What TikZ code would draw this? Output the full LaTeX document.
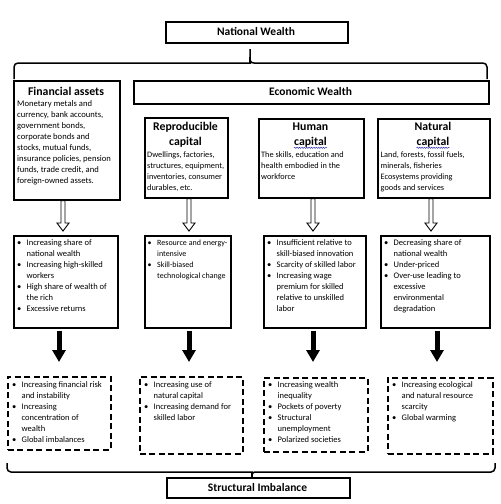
\documentclass[tikz,border=0pt]{standalone}
\usepackage{fontspec}
\setmainfont{Carlito}
\usetikzlibrary{arrows.meta,calc,decorations.pathmorphing}
\newcommand\bu{\makebox[9.5pt][l]{\textbullet}}
\newcommand\hollowarr[2]{%
  \draw[hollow] ($#1+(-2,0)$) -- ($#2+(-2,-8)$) -- ($#2+(-6,-8)$) -- #2 -- ($#2+(6,-8)$) -- ($#2+(2,-8)$) -- ($#1+(2,0)$) -- cycle;}
\begin{document}
\begin{tikzpicture}[x=1pt,y=-1pt,
  box/.style={draw, line width=1.6pt, inner sep=0, anchor=north west},
  dbox/.style={draw, line width=1.8pt, dash pattern=on 6pt off 3.5pt, inner sep=0, anchor=north west},
  head/.style={font=\fontsize{11.8}{14}\selectfont\bfseries, inner sep=0, anchor=base},
  title/.style={font=\fontsize{11.5}{14}\selectfont\bfseries, inner sep=0, anchor=base},
  body/.style={font=\fontsize{8.3}{11}\selectfont, inner sep=0, anchor=north west, align=left},
  blist/.style={font=\fontsize{8.5}{11}\selectfont, inner sep=0, anchor=north west, align=left},
  brace/.style={line width=1.5pt},
  hollow/.style={line width=0.9pt, fill=white},
  blk/.style={line width=5pt, -{Triangle[length=12pt,width=13pt]}},
  squig/.style={draw=blue!60!black!80, line width=0.5pt, decorate, decoration={snake, amplitude=0.6pt, segment length=2.4pt}}
]
\fill[white] (0,0) rectangle (501,504);
\useasboundingbox (0,0) rectangle (501,504);

% top level
\node[box, minimum width=182pt, minimum height=21pt] (nw) at (165,21) {};
\node[title] (nwt) at (256,35.5) {National Wealth};

\draw[brace] (14,79) [rounded corners=4pt] -- (14,63) -- (246,63) [sharp corners] .. controls (249.5,63) and (250,61) .. (250,57) -- (250,49)
  (250,57) .. controls (250,61) and (250.5,63) .. (254,63) [rounded corners=4pt] -- (487,63) -- (487,79);

% second level
\node[box, minimum width=106pt, minimum height=119pt] (fa) at (13,80) {};
\node[head] (fah) at (66,95) {Financial assets};
\node[body, font=\fontsize{8.6}{11}\selectfont] (fab) at (17,98.3) {\begin{tabular}{@{}l@{}}Monetary metals and\\ currency, bank accounts,\\ government bonds,\\ corporate bonds and\\ stocks, mutual funds,\\ insurance policies, pension\\ funds, trade credit, and\\ foreign-owned assets.\end{tabular}};

\node[box, minimum width=355pt, minimum height=23pt] (ew) at (133,80) {};
\node[title] (ewt) at (310.5,95.5) {Economic Wealth};

\node[box, minimum width=83pt, minimum height=80pt] (rc) at (144,117) {};
\node[head] (rch) at (185.5,130.5) {Reproducible};
\node[head] (rcc) at (185.5,145) {capital};
\node[body] (rcb) at (147,149.8) {\begin{tabular}{@{}l@{}}Dwellings, factories,\\ structures, equipment,\\ inventories, consumer\\ durables, etc.\end{tabular}};

\node[box, minimum width=105pt, minimum height=79pt] (hc) at (258,118) {};
\node[head] (hch) at (310.5,130.5) {Human};
\node[head] (hcc) at (310.5,145) {capital};
\draw[squig] ($(hcc.base west)+(0,2.8)$) -- ($(hcc.base east)+(0,2.8)$);
\node[body] (hcb) at (261,149.3) {\begin{tabular}{@{}l@{}}The skills, education and\\ health embodied in the\\ workforce\end{tabular}};

\node[box, minimum width=112pt, minimum height=79pt] (nc) at (377,118) {};
\node[head] (nch) at (433,130.5) {Natural};
\node[head] (ncc) at (433,145) {capital};
\draw[squig] ($(ncc.base west)+(0,2.8)$) -- ($(ncc.base east)+(0,2.8)$);
\node[body] (ncb) at (380.5,149.8) {\begin{tabular}{@{}l@{}}Land, forests, fossil fuels,\\ minerals, fisheries\\ Ecosystems providing\\ goods and services\end{tabular}};

% third level
\node[box, minimum width=104pt, minimum height=92pt] (ma) at (13,235) {};
\node[blist] (mat) at (17,237.3) {\begin{tabular}{@{}l@{}l@{}}\bu & Increasing share of\\ & national wealth\\ \bu & Increasing high-skilled\\ & workers\\ \bu & High share of wealth of\\ & the rich\\ \bu & Excessive returns\end{tabular}};

\node[box, minimum width=86pt, minimum height=92pt] (mb) at (144,235) {};
\node[blist, font=\fontsize{8}{11}\selectfont] (mbt) at (147.5,237.3) {\begin{tabular}{@{}l@{}l@{}}\bu & Resource and energy-\\ & intensive\\ \bu & Skill-biased\\ & technological change\end{tabular}};

\node[box, minimum width=102pt, minimum height=92pt] (mc) at (263,235) {};
\node[blist] (mct) at (267,237.3) {\begin{tabular}{@{}l@{}l@{}}\bu & Insufficient relative to\\ & skill-biased innovation\\ \bu & Scarcity of skilled labor\\ \bu & Increasing wage\\ & premium for skilled\\ & relative to unskilled\\ & labor\end{tabular}};

\node[box, minimum width=109pt, minimum height=92pt] (md) at (380,235) {};
\node[blist] (mdt) at (384,237.3) {\begin{tabular}{@{}l@{}l@{}}\bu & Decreasing share of\\ & national wealth\\ \bu & Under-priced\\ \bu & Over-use leading to\\ & excessive\\ & environmental\\ & degradation\end{tabular}};

% hollow arrows
\coordinate (h1) at (63,0);
\coordinate (h2) at (189,0);
\coordinate (h3) at (313,0);
\coordinate (h4) at (431,0);
\hollowarr{(fa.south -| h1)}{($(ma.north -| h1)+(0,-4)$)}
\hollowarr{(rc.south -| h2)}{($(mb.north -| h2)+(0,-4)$)}
\hollowarr{(hc.south -| h3)}{($(mc.north -| h3)+(0,-4)$)}
\hollowarr{(nc.south -| h4)}{($(md.north -| h4)+(0,-4)$)}

% fourth level
\node[dbox, minimum width=103pt, minimum height=73pt] (da) at (7,376) {};
\node[blist] (dat) at (12,379.3) {\begin{tabular}{@{}l@{}l@{}}\bu & Increasing financial risk\\ & and instability\\ \bu & Increasing\\ & concentration of\\ & wealth\\ \bu & Global imbalances\end{tabular}};

\node[dbox, minimum width=103pt, minimum height=77pt] (db) at (139,376) {};
\node[blist] (dbt) at (144,379.3) {\begin{tabular}{@{}l@{}l@{}}\bu & Increasing use of\\ & natural capital\\ \bu & Increasing demand for\\ & skilled labor\end{tabular}};

\node[dbox, minimum width=104pt, minimum height=74pt] (dc) at (263,377) {};
\node[blist] (dct) at (268,379.3) {\begin{tabular}{@{}l@{}l@{}}\bu & Increasing wealth\\ & inequality\\ \bu & Pockets of poverty\\ \bu & Structural\\ & unemployment\\ \bu & Polarized societies\end{tabular}};

\node[dbox, minimum width=105pt, minimum height=76pt] (dd) at (387,377) {};
\node[blist] (ddt) at (392,379.3) {\begin{tabular}{@{}l@{}l@{}}\bu & Increasing ecological\\ & and natural resource\\ & scarcity\\ \bu & Global warming\end{tabular}};

% black arrows
\coordinate (b1) at (59,0);
\coordinate (b2) at (189,0);
\coordinate (b3) at (313,0);
\coordinate (b4) at (437,0);
\draw[blk] ($(ma.south -| b1)+(0,2)$) -- ($(da.north -| b1)+(0,-14)$);
\draw[blk] ($(mb.south -| b2)+(0,2)$) -- ($(db.north -| b2)+(0,-14)$);
\draw[blk] ($(mc.south -| b3)+(0,2)$) -- ($(dc.north -| b3)+(0,-15)$);
\draw[blk] ($(md.south -| b4)+(0,2)$) -- ($(dd.north -| b4)+(0,-15)$);

% bottom
\node[box, minimum width=183pt, minimum height=20pt] (si) at (166,477) {};
\node[title] (sit) at (257.5,491) {Structural Imbalance};

\draw[brace] (7,463) [rounded corners=4pt] -- (7,472) -- (248,472) [sharp corners] .. controls (251.5,472) and (252,473.5) .. (252,477)
  (252,477) .. controls (252,473.5) and (252.5,472) .. (256,472) [rounded corners=4pt] -- (495,472) -- (495,463);
\end{tikzpicture}
\end{document}
